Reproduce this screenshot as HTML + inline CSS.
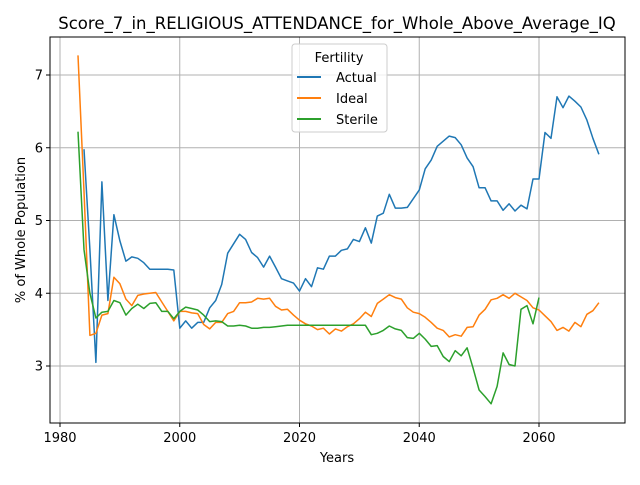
<!DOCTYPE html>
<html><head><meta charset="utf-8"><style>
body{margin:0;background:#fff;}
svg text{font-family:"DejaVu Sans","Liberation Sans",sans-serif;fill:#000;}
</style></head><body>
<svg id="chart" width="640" height="480" xmlns="http://www.w3.org/2000/svg">
<rect width="640" height="480" fill="#fff"/>
<g id="grid"></g>
<g id="series"></g>
<rect x="50" y="37" width="575" height="386" fill="none" stroke="#000" stroke-width="1"/>
<g id="axes"></g>
<text x="337" y="29" text-anchor="middle" font-size="16.5">Score_7_in_RELIGIOUS_ATTENDANCE_for_Whole_Above_Average_IQ</text>
<text x="337" y="462" text-anchor="middle" font-size="13">Years</text>
<text transform="translate(25,230) rotate(-90)" text-anchor="middle" font-size="13">% of Whole Population</text>
<g>
<rect x="292" y="44" width="95" height="88" rx="3" fill="#fff" fill-opacity="0.8" stroke="#ccc"/>
<text x="339" y="62" text-anchor="middle" font-size="13">Fertility</text>
<line x1="297" y1="77" x2="321" y2="77" stroke="#1f77b4" stroke-width="2"/><text x="336" y="82" font-size="13">Actual</text>
<line x1="297" y1="98" x2="321" y2="98" stroke="#ff7f0e" stroke-width="2"/><text x="336" y="103" font-size="13">Ideal</text>
<line x1="297" y1="119" x2="321" y2="119" stroke="#2ca02c" stroke-width="2"/><text x="336" y="124" font-size="13">Sterile</text>
</g>
</svg>
<script>
const xTicks=[1980,2000,2020,2040,2060];
const yTicks=[3,4,5,6,7];
const actualStart=1984;
const actual=[5.98,4.6,3.05,5.53,3.9,5.08,4.72,4.44,4.5,4.48,4.42,4.33,4.33,4.33,4.33,4.32,3.52,3.62,3.52,3.6,3.6,3.8,3.9,4.12,4.55,4.68,4.81,4.74,4.56,4.49,4.36,4.51,4.36,4.2,4.17,4.14,4.03,4.2,4.09,4.35,4.33,4.51,4.51,4.59,4.61,4.74,4.71,4.9,4.69,5.06,5.1,5.36,5.17,5.17,5.18,5.3,5.42,5.71,5.83,6.02,6.09,6.16,6.14,6.04,5.86,5.74,5.45,5.45,5.27,5.27,5.14,5.23,5.13,5.21,5.16,5.57,5.57,6.21,6.13,6.7,6.55,6.71,6.64,6.56,6.38,6.13,5.91];
const idealStart=1983;
const ideal=[7.27,5.4,3.42,3.45,3.7,3.72,4.22,4.13,3.92,3.83,3.97,3.99,4.0,4.01,3.88,3.75,3.62,3.75,3.75,3.73,3.72,3.57,3.51,3.6,3.6,3.72,3.75,3.87,3.87,3.88,3.93,3.92,3.93,3.82,3.77,3.78,3.7,3.63,3.58,3.55,3.5,3.52,3.44,3.51,3.48,3.54,3.58,3.65,3.74,3.68,3.86,3.92,3.98,3.94,3.92,3.8,3.74,3.72,3.67,3.6,3.52,3.49,3.4,3.43,3.41,3.53,3.54,3.7,3.78,3.91,3.93,3.98,3.93,4.0,3.95,3.9,3.8,3.77,3.69,3.61,3.49,3.53,3.48,3.6,3.54,3.71,3.76,3.87];
const sterileStart=1983;
const sterile=[6.22,4.6,4.0,3.66,3.74,3.75,3.9,3.87,3.7,3.79,3.85,3.79,3.86,3.87,3.75,3.75,3.65,3.75,3.81,3.79,3.77,3.7,3.61,3.62,3.61,3.55,3.55,3.56,3.55,3.52,3.52,3.53,3.53,3.54,3.55,3.56,3.56,3.56,3.56,3.56,3.56,3.56,3.56,3.56,3.56,3.56,3.56,3.56,3.56,3.43,3.45,3.49,3.55,3.51,3.49,3.39,3.38,3.45,3.37,3.27,3.28,3.13,3.06,3.21,3.14,3.25,2.97,2.67,2.58,2.48,2.72,3.18,3.02,3.0,3.78,3.83,3.58,3.94];
const NS='http://www.w3.org/2000/svg';
const X=v=>60+(v-1980)*(479/80);
const Y=v=>366-(v-3)*(291/4);
function mk(tag,parent,attrs){const e=document.createElementNS(NS,tag);for(const k in attrs)e.setAttribute(k,attrs[k]);parent.appendChild(e);return e;}
const grid=document.getElementById('grid'),axes=document.getElementById('axes'),ser=document.getElementById('series');
xTicks.forEach(t=>{
 const g=mk('line',grid,{x1:X(t),x2:X(t),y1:37,y2:423,stroke:'#b0b0b0','stroke-width':1});
 
 
 mk('line',axes,{x1:X(t),x2:X(t),y1:423,y2:427,stroke:'#000'});
 const tx=mk('text',axes,{x:X(t),y:442,'text-anchor':'middle','font-size':13});
 
 
 tx.textContent=t;
});
yTicks.forEach(t=>{
 const g=mk('line',grid,{x1:50,x2:625,y1:Y(t),y2:Y(t),stroke:'#b0b0b0','stroke-width':1});
 
 
 mk('line',axes,{x1:46,x2:50,y1:Y(t),y2:Y(t),stroke:'#000'});
 const tx=mk('text',axes,{x:43,y:Y(t)+4.5,'text-anchor':'end','font-size':13});
 
 
 tx.textContent=t;
});
function line(data,start,color,name){
 const d=data.map((v,i)=>(i?'L':'M')+X(start+i).toFixed(1)+','+Y(v).toFixed(1)).join('');
 const p=mk('path',ser,{d:d,fill:'none',stroke:color,'stroke-width':1.5,'stroke-linejoin':'round'});
 
 
}
line(actual,actualStart,'#1f77b4','actual-line');
line(ideal,idealStart,'#ff7f0e','ideal-line');
line(sterile,sterileStart,'#2ca02c','sterile-line');
</script>
</body></html>
